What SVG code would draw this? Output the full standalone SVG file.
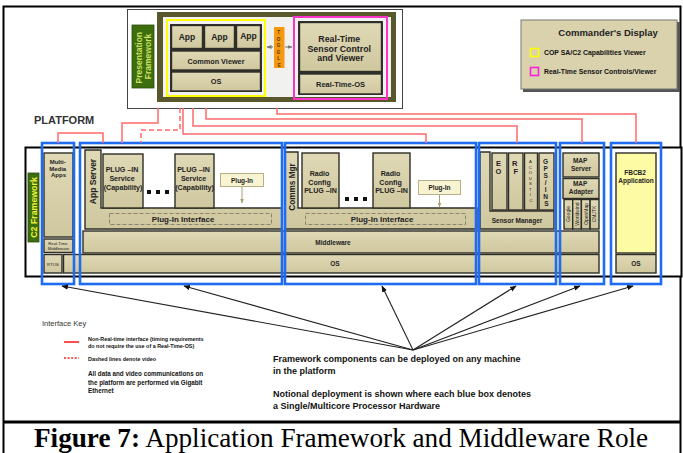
<svg xmlns="http://www.w3.org/2000/svg" width="683" height="453" viewBox="0 0 683 453">
  <defs>
    <linearGradient id="tanGrad" x1="0" y1="0" x2="0" y2="1">
      <stop offset="0" stop-color="#e0d9b6"/>
      <stop offset="1" stop-color="#cfc79e"/>
    </linearGradient>
    <marker id="blackHead" viewBox="0 0 10 10" refX="9" refY="5" markerWidth="6" markerHeight="6" orient="auto">
      <path d="M0,1 L10,5 L0,9 z" fill="#111"/>
    </marker>
    <marker id="grayHead" viewBox="0 0 10 10" refX="9" refY="5" markerWidth="5" markerHeight="5" orient="auto-start-reverse">
      <path d="M0,1 L10,5 L0,9 z" fill="#777"/>
    </marker>
    <marker id="oliveHead" viewBox="0 0 10 10" refX="9" refY="5" markerWidth="5" markerHeight="5" orient="auto">
      <path d="M0,1 L10,5 L0,9 z" fill="#a8a070"/>
    </marker>
  </defs>
  <style>
    .tan { fill: url(#tanGrad); stroke: #2e2e26; stroke-width: 1.4; }
    .dark { fill: #303030; }
    .blue { fill: none; stroke: #1f6cf2; stroke-width: 2.6; }
    .red { fill: none; stroke: #ff6a6a; stroke-width: 1.5; }
    .redDash { fill: none; stroke: #ff6a6a; stroke-width: 1.5; stroke-dasharray: 5 3; }
    .arrow { fill: none; stroke: #222; stroke-width: 1.1; marker-end: url(#blackHead); }
    .t { font-family: "Liberation Sans", Arial, sans-serif; font-weight: bold; fill: #222; text-anchor: middle; }
    .tl { font-family: "Liberation Sans", Arial, sans-serif; font-weight: bold; fill: #111; }
    .green { fill: #3d6e0e; stroke: #2a4c08; stroke-width: 0.8; }
    .plug { fill: #f8f4d2; stroke: #b8b088; stroke-width: 1; }
  </style>

  <!-- page frame and caption divider -->
  <g id="frame">
    <rect x="0" y="0" width="683" height="453" fill="#ffffff"/>
    <rect x="3.5" y="6.5" width="677" height="460" fill="none" stroke="#000" stroke-width="2"/>
    <line x1="3" y1="422" x2="681" y2="422" stroke="#000" stroke-width="3"/>
  </g>

  <!-- presentation framework -->
  <g id="presentation">
    <rect x="127.5" y="9.5" width="275" height="99" fill="#fff" stroke="#444" stroke-width="1"/>
    <rect x="132" y="25" width="22" height="63" class="green"/>
    <text class="t" transform="translate(143,56.5) rotate(-90)" font-size="8.5" style="fill:#cfe062">
      <tspan x="0" y="-1.5">Presentation</tspan>
      <tspan x="0" y="7.5">Framework</tspan>
    </text>
    <rect x="157" y="12" width="239" height="90" fill="#58582c"/>
    <rect x="163" y="17" width="228" height="80" fill="#f1f1ef"/>
    <rect x="167" y="20" width="98" height="76" fill="none" stroke="#ffff00" stroke-width="2"/>
    <rect x="170" y="24" width="92" height="68" class="dark"/>
    <rect x="171.5" y="25.5" width="31" height="23" class="tan"/>
    <rect x="204.5" y="25.5" width="30" height="23" class="tan"/>
    <rect x="236.5" y="25.5" width="24" height="23" class="tan"/>
    <rect x="171.5" y="51" width="89" height="19" class="tan"/>
    <rect x="171.5" y="72" width="89" height="19" class="tan"/>
    <text class="t" font-size="8.5" x="187" y="39.5">App</text>
    <text class="t" font-size="8.5" x="219.5" y="39.5">App</text>
    <text class="t" font-size="8.5" x="248.5" y="38.5">App</text>
    <text class="t" font-size="7.3" x="216" y="63.5">Common Viewer</text>
    <text class="t" font-size="7.3" x="216" y="84">OS</text>

    <rect x="294" y="17" width="93" height="82" fill="none" stroke="#ff33cc" stroke-width="2"/>
    <rect x="298" y="21" width="85" height="74" class="dark"/>
    <rect x="299.5" y="22.5" width="82" height="49" class="tan"/>
    <rect x="299.5" y="74" width="82" height="20" class="tan"/>
    <text class="t" font-size="8.8">
      <tspan x="340.5" y="42">Real-Time</tspan>
      <tspan x="340.5" y="51.5">Sensor Control</tspan>
      <tspan x="340.5" y="61">and Viewer</tspan>
    </text>
    <text class="t" font-size="7.5" x="340.5" y="87">Real-Time-OS</text>
  </g>

  <!-- toggle switch between the two viewers -->
  <g id="toggle">
    <line x1="267" y1="47" x2="273" y2="47" stroke="#777" stroke-width="1" marker-start="url(#grayHead)"/>
    <line x1="285" y1="47" x2="292" y2="47" stroke="#777" stroke-width="1" marker-end="url(#grayHead)"/>
    <rect x="274" y="27" width="10.5" height="41" fill="#f59a10"/>
    <text class="t" font-size="4.6" style="fill:#553300">
      <tspan x="279.3" y="34">T</tspan>
      <tspan x="279.3" y="40.5">O</tspan>
      <tspan x="279.3" y="47">G</tspan>
      <tspan x="279.3" y="53.5">G</tspan>
      <tspan x="279.3" y="60">L</tspan>
      <tspan x="279.3" y="66.5">E</tspan>
    </text>
  </g>

  <!-- legend -->
  <g id="commanders-display">
    <rect x="523" y="22" width="157" height="70" fill="#555"/>
    <rect x="521" y="20" width="156" height="69" fill="#d9d2ad" stroke="#777" stroke-width="1"/>
    <text class="t" font-size="9.5" x="608" y="36">Commander's Display</text>
    <rect x="530.5" y="48.5" width="8" height="8" fill="none" stroke="#ffff00" stroke-width="1.6"/>
    <text class="tl" font-size="6.9" x="544" y="55">COP SA/C2 Capabilities Viewer</text>
    <rect x="530.5" y="67.5" width="8" height="8" fill="none" stroke="#ff22dd" stroke-width="1.6"/>
    <text class="tl" font-size="6.9" x="544" y="73.5">Real-Time Sensor Controls/Viewer</text>
  </g>

  <text id="platform-label" class="tl" font-size="11" x="34" y="123.5" style="fill:#333">PLATFORM</text>

  <!-- platform enclosure -->
  <g id="platform">
    <rect x="25.5" y="147.5" width="656" height="129" fill="#fff" stroke="#000" stroke-width="2"/>
    <rect x="28" y="173" width="11" height="69" class="green"/>
    <text class="t" transform="translate(33.5,207.5) rotate(-90)" x="0" y="3.2" font-size="8.8" style="fill:#f2f23a">C2 Framework</text>
  </g>

  <!-- shared middleware and OS layers -->
  <g id="middleware">
    <rect x="83" y="231" width="516" height="22" class="tan"/>
    <text class="t" font-size="6.5" x="333" y="244.5">Middleware</text>
  </g>
  <g id="os-layer">
    <rect x="63.5" y="254.5" width="535.5" height="18.5" class="tan"/>
    <text class="t" font-size="6.5" x="335" y="265.5">OS</text>
  </g>

  <!-- multimedia column -->
  <g id="multimedia">
    <rect x="44" y="153" width="29" height="84" class="tan"/>
    <text class="t" font-size="6">
      <tspan x="58.5" y="164">Multi-</tspan>
      <tspan x="58.5" y="170.5">Media</tspan>
      <tspan x="58.5" y="177">Apps</tspan>
    </text>
    <rect x="44" y="239" width="29" height="13.5" class="tan"/>
    <text class="t" font-size="4.2" style="font-weight:normal">
      <tspan x="58.5" y="244.5">Real-Time</tspan>
      <tspan x="58.5" y="250">Middleware</tspan>
    </text>
    <rect x="44" y="254.5" width="18" height="18.5" class="tan"/>
    <text class="t" font-size="4.3" x="53" y="265.5" style="font-weight:normal">RTOS</text>
  </g>

  <!-- application server -->
  <g id="app-server">
    <path d="M85,150 H101 V208 H282 V229 H85 Z" class="tan"/>
    <text class="t" transform="translate(93,181.5) rotate(-90)" x="0" y="3" font-size="8.5">App Server</text>
    <rect x="109.5" y="213.5" width="162" height="11" fill="none" stroke="#8a8670" stroke-width="1" stroke-dasharray="4 2"/>
    <text class="t" font-size="8" x="183" y="222">Plug-In Interface</text>
    <rect x="103" y="154" width="40" height="54" class="tan"/>
    <text class="t" font-size="7.1">
      <tspan x="123" y="172">PLUG –IN</tspan>
      <tspan x="123" y="181">Service</tspan>
      <tspan x="123" y="189.5">(Capability)</tspan>
    </text>
    <rect x="175" y="154" width="39" height="54" class="tan"/>
    <text class="t" font-size="7.1">
      <tspan x="194.5" y="172">PLUG –IN</tspan>
      <tspan x="194.5" y="181">Service</tspan>
      <tspan x="194.5" y="189.5">(Capability)</tspan>
    </text>
    <rect x="147" y="190" width="4" height="4" fill="#111"/>
    <rect x="156" y="190" width="4" height="4" fill="#111"/>
    <rect x="165" y="190" width="4" height="4" fill="#111"/>
    <rect x="220.5" y="173.5" width="43" height="13" class="plug"/>
    <text class="t" font-size="6.5" x="242" y="182.5">Plug-In</text>
    <line x1="242" y1="187" x2="242" y2="203" stroke="#a8a070" stroke-width="1" marker-end="url(#oliveHead)"/>
  </g>

  <!-- communications manager -->
  <g id="comms-mgr">
    <path d="M285,152 H298 V208 H477 V229 H285 Z" class="tan"/>
    <text class="t" transform="translate(291.5,187) rotate(-90)" x="0" y="3" font-size="8.2">Comms Mgr</text>
    <rect x="305.5" y="213.5" width="160" height="11" fill="none" stroke="#8a8670" stroke-width="1" stroke-dasharray="4 2"/>
    <text class="t" font-size="8" x="382" y="222">Plug-In Interface</text>
    <rect x="302" y="153" width="37" height="55" class="tan"/>
    <text class="t" font-size="7.1">
      <tspan x="320.5" y="176">Radio</tspan>
      <tspan x="320.5" y="184.5">Config</tspan>
      <tspan x="320.5" y="193">PLUG –IN</tspan>
    </text>
    <rect x="373" y="153" width="37" height="55" class="tan"/>
    <text class="t" font-size="7.1">
      <tspan x="391.5" y="176">Radio</tspan>
      <tspan x="391.5" y="184.5">Config</tspan>
      <tspan x="391.5" y="193">PLUG –IN</tspan>
    </text>
    <rect x="345" y="197" width="4" height="4" fill="#111"/>
    <rect x="354" y="197" width="4" height="4" fill="#111"/>
    <rect x="363" y="197" width="4" height="4" fill="#111"/>
    <rect x="418.5" y="180.5" width="42" height="14" class="plug"/>
    <text class="t" font-size="6.5" x="439.5" y="190">Plug-In</text>
    <line x1="439.5" y1="195" x2="439.5" y2="207" stroke="#a8a070" stroke-width="1" marker-end="url(#oliveHead)"/>
  </g>

  <!-- sensor manager -->
  <g id="sensor-manager">
    <path d="M480,152 H490 V211 H554 V229 H480 Z" class="tan"/>
    <text class="t" font-size="6.5" x="517" y="223">Sensor Manager</text>
    <rect x="492" y="153" width="15" height="57" class="tan"/>
    <rect x="508.5" y="153" width="14.5" height="57" class="tan"/>
    <rect x="524.5" y="153" width="13" height="57" class="tan"/>
    <rect x="539" y="153" width="15" height="57" class="tan"/>
    <text class="t" font-size="7.5">
      <tspan x="499.5" y="166">E</tspan>
      <tspan x="499.5" y="174">O</tspan>
      <tspan x="515.7" y="166">R</tspan>
      <tspan x="515.7" y="174">F</tspan>
    </text>
    <text class="t" font-size="4.3" style="font-weight:normal">
      <tspan x="531" y="163">A</tspan>
      <tspan x="531" y="168.5">C</tspan>
      <tspan x="531" y="174">O</tspan>
      <tspan x="531" y="179.5">U</tspan>
      <tspan x="531" y="185">S</tspan>
      <tspan x="531" y="190.5">T</tspan>
      <tspan x="531" y="196">I</tspan>
      <tspan x="531" y="201.5">C</tspan>
    </text>
    <text class="t" font-size="6.5">
      <tspan x="546.5" y="163.5">G</tspan>
      <tspan x="546.5" y="170.5">P</tspan>
      <tspan x="546.5" y="177.5">S</tspan>
      <tspan x="546.5" y="184.5">/</tspan>
      <tspan x="546.5" y="191.5">I</tspan>
      <tspan x="546.5" y="198.5">N</tspan>
      <tspan x="546.5" y="205.5">S</tspan>
    </text>
  </g>

  <!-- map services -->
  <g id="map">
    <rect x="563" y="153" width="36" height="24" class="tan"/>
    <text class="t" font-size="6.5">
      <tspan x="581" y="163">MAP</tspan>
      <tspan x="581" y="171">Server</tspan>
    </text>
    <rect x="563" y="178.5" width="36" height="20" class="tan"/>
    <text class="t" font-size="6.5">
      <tspan x="581" y="186">MAP</tspan>
      <tspan x="581" y="194">Adapter</tspan>
    </text>
    <rect x="564" y="199.5" width="8.7" height="29.5" class="tan"/>
    <rect x="572.7" y="199.5" width="8.7" height="29.5" class="tan"/>
    <rect x="581.4" y="199.5" width="8.7" height="29.5" class="tan"/>
    <rect x="590.1" y="199.5" width="8.9" height="29.5" class="tan"/>
    <g class="t" font-size="5" style="font-weight:normal">
      <text transform="translate(568.3,214) rotate(-90)" x="0" y="1.8">Google</text>
      <text transform="translate(577,214) rotate(-90)" x="0" y="1.8">Worldwind</text>
      <text transform="translate(585.7,214) rotate(-90)" x="0" y="1.8">OpenMap</text>
      <text transform="translate(594.5,214) rotate(-90)" x="0" y="1.8">CMJTK</text>
    </g>
  </g>

  <!-- FBCB2 -->
  <g id="fbcb2">
    <rect x="616" y="153" width="40" height="100" fill="#fdfca4" stroke="#2e2e26" stroke-width="1.4"/>
    <text class="t" font-size="6.5">
      <tspan x="636" y="175">FBCB2</tspan>
      <tspan x="636" y="183">Application</tspan>
    </text>
    <rect x="616" y="254.5" width="40" height="18.5" class="tan"/>
    <text class="t" font-size="6.5" x="636" y="265.5">OS</text>
  </g>

  <!-- processor hardware boundaries -->
  <g id="processors">
    <rect x="42" y="143" width="32" height="141" class="blue"/>
    <rect x="80" y="143" width="202" height="141" class="blue"/>
    <rect x="285" y="143" width="191" height="141" class="blue"/>
    <rect x="479" y="143" width="77" height="141" class="blue"/>
    <rect x="560" y="143" width="44" height="141" class="blue"/>
    <rect x="611" y="143" width="50" height="141" class="blue"/>
  </g>

  <!-- interfaces and deployment pointers -->
  <g id="connectors">
    <path class="red" d="M58,143 V133 H103 V143"/>
    <path class="red" d="M122,143 V123 H158 V108"/>
    <path class="redDash" d="M180,108 V130 H141 V143"/>
    <path class="red" d="M183,108 V134 H426 V143"/>
    <path class="red" d="M193,108 V126 H517 V143"/>
    <path class="red" d="M206,108 V119 H582 V143"/>
    <path class="red" d="M277,108 V114 H636 V143"/>

    <line class="arrow" x1="413" y1="350" x2="62" y2="286"/>
    <line class="arrow" x1="413" y1="350" x2="184" y2="286"/>
    <line class="arrow" x1="413" y1="350" x2="382" y2="286"/>
    <line class="arrow" x1="413" y1="350" x2="516" y2="286"/>
    <line class="arrow" x1="413" y1="350" x2="580" y2="286"/>
    <line class="arrow" x1="413" y1="350" x2="633" y2="286"/>
  </g>

  <!-- interface key -->
  <g id="interface-key">
    <text x="42" y="326" font-family="Liberation Sans, Arial, sans-serif" font-size="7.5" fill="#333">Interface Key</text>
    <line x1="64" y1="342" x2="79" y2="342" stroke="#ff2020" stroke-width="1.6"/>
    <text class="tl" font-size="5.4">
      <tspan x="88" y="341">Non-Real-time interface (timing requirements</tspan>
      <tspan x="88" y="348">do not require the use of a Real-Time-OS)</tspan>
    </text>
    <line x1="64" y1="358" x2="79" y2="358" stroke="#ff2020" stroke-width="1.6" stroke-dasharray="2 1.6"/>
    <text class="tl" font-size="5.4" x="88" y="361">Dashed lines denote video</text>
    <text class="tl" font-size="6.3">
      <tspan x="88" y="376">All data and video communications  on</tspan>
      <tspan x="88" y="384.5">the platform are performed via Gigabit</tspan>
      <tspan x="88" y="393">Ethernet</tspan>
    </text>
  </g>

  <!-- deployment notes -->
  <g id="notes">
    <text class="tl" font-size="9">
      <tspan x="273" y="362">Framework components can be deployed on any machine</tspan>
      <tspan x="273" y="374">in the platform</tspan>
      <tspan x="273" y="397">Notional deployment is shown where each blue box denotes</tspan>
      <tspan x="273" y="409">a Single/Multicore Processor Hardware</tspan>
    </text>
  </g>

  <!-- caption -->
  <text id="caption" x="34" y="447" font-family="Liberation Serif, 'Times New Roman', serif" font-size="27.2" fill="#000"><tspan font-weight="bold">Figure 7:</tspan> Application Framework and Middleware Role</text>
</svg>
